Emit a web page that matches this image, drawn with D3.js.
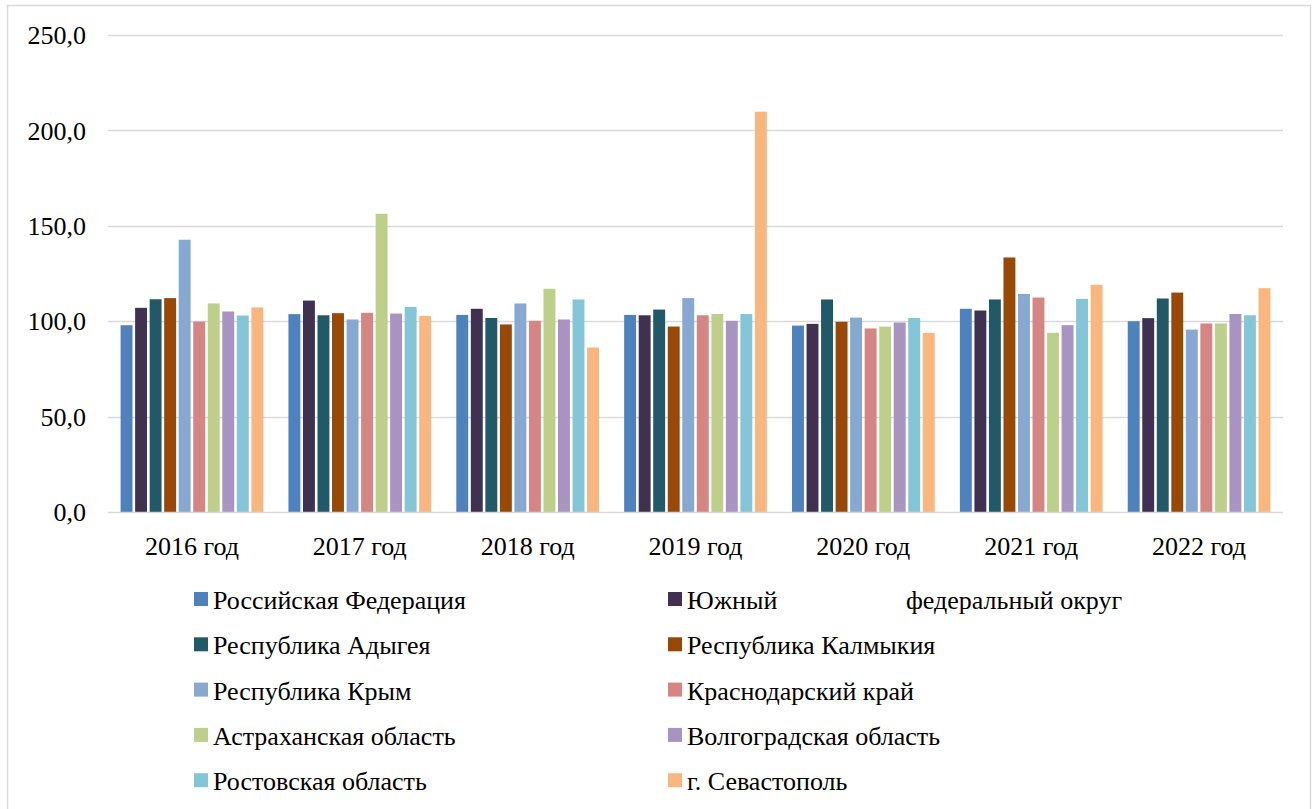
<!DOCTYPE html>
<html lang="ru">
<head>
    <meta charset="UTF-8">
    <title>Индексы по годам</title>
    <style>
        body { margin: 0; background: #fff; }
        svg text {
            font-family: "Liberation Serif", "Times New Roman", "DejaVu Serif", serif;
            fill: #000;
        }
    </style>
</head>
<body>
    <div id="chart"></div>
    <script src="https://d3js.org/d3.v7.min.js"></script>
    <script>

        // categories (years)
        var years = ["2016 год", "2017 год", "2018 год", "2019 год", "2020 год", "2021 год", "2022 год"];

        // series names
        var seriesNames = [
            "Российская Федерация",
            "Южный федеральный округ",
            "Республика Адыгея",
            "Республика Калмыкия",
            "Республика Крым",
            "Краснодарский край",
            "Астраханская область",
            "Волгоградская область",
            "Ростовская область",
            "г. Севастополь"
        ];

        // values per series, one per year
        var rf         = [97.9, 103.7, 103.3, 103.3, 97.7, 106.5, 100.0];
        var yufo       = [107.0, 110.8, 106.5, 103.1, 98.6, 105.6, 101.6];
        var adygea     = [111.5, 103.1, 101.7, 106.1, 111.4, 111.4, 111.9];
        var kalmykia   = [112.1, 104.2, 98.3, 97.2, 99.7, 133.4, 115.0];
        var krym       = [142.7, 100.9, 109.3, 112.1, 101.9, 114.3, 95.6];
        var krasnodar  = [99.8, 104.4, 100.2, 103.1, 96.2, 112.4, 98.8];
        var astrakhan  = [109.3, 156.3, 117.0, 103.8, 97.2, 93.9, 98.8];
        var volgograd  = [105.1, 104.0, 100.9, 100.2, 99.3, 97.9, 103.8];
        var rostov     = [103.0, 107.5, 111.4, 103.8, 101.7, 111.7, 103.1];
        var sevastopol = [107.2, 102.8, 86.2, 209.8, 93.9, 119.1, 117.3];

        var yTicks = [0, 50, 100, 150, 200, 250];

        var seriesValues = [rf, yufo, adygea, kalmykia, krym, krasnodar, astrakhan, volgograd, rostov, sevastopol];

        var colors = ["#4F81BD", "#403151", "#215968", "#984807", "#86A8D1",
                      "#D58584", "#BECF8C", "#A794C0", "#84C5D7", "#F9B67E"];

        var width = 1312, height = 809;
        var plot = {left: 108, right: 1283, top: 35, bottom: 512};
        var serif = "'Liberation Serif', 'Times New Roman', 'DejaVu Serif', serif";

        var svg = d3.select("#chart").append("svg")
            .attr("width", width)
            .attr("height", height)
            .attr("font-family", serif);

        // chart frame
        svg.append("rect")
            .attr("x", 7.5).attr("y", 5.5)
            .attr("width", 1303).attr("height", 820)
            .attr("fill", "#fff")
            .attr("stroke", "#D9D9D9")
            .attr("stroke-width", 1.5);

        var x0 = d3.scaleBand()
            .domain(years)
            .range([plot.left, plot.right])
            .paddingInner(0.15)
            .paddingOuter(0.075);

        var x1 = d3.scaleBand()
            .domain(d3.range(seriesNames.length))
            .range([0, x0.bandwidth()])
            .paddingInner(0.18);

        var y = d3.scaleLinear()
            .domain([0, 250])
            .range([plot.bottom, plot.top]);

        // gridlines
        svg.append("g").selectAll("line")
            .data(yTicks.slice(1))
            .enter().append("line")
            .attr("x1", plot.left).attr("x2", plot.right)
            .attr("y1", function(d) { return Math.round(y(d)) + 0.5; })
            .attr("y2", function(d) { return Math.round(y(d)) + 0.5; })
            .attr("stroke", "#D9D9D9")
            .attr("stroke-width", 1.5);

        // y labels
        var fmt = function(d) { return d3.format(".1f")(d).replace(".", ","); };
        svg.append("g").selectAll("text")
            .data(yTicks)
            .enter().append("text")
            .attr("x", 86)
            .attr("y", function(d) { return y(d); })
            .attr("dy", "0.35em")
            .attr("text-anchor", "end")
            .style("font-family", serif)
            .style("font-size", "26px")
            .text(fmt);

        // bars
        var groups = svg.append("g").selectAll("g")
            .data(years)
            .enter().append("g")
            .attr("transform", function(d) { return "translate(" + x0(d) + ",0)"; });

        groups.selectAll("rect")
            .data(function(d, i) {
                return seriesValues.map(function(s, k) { return {k: k, v: s[i]}; });
            })
            .enter().append("rect")
            .attr("x", function(d) { return x1(d.k); })
            .attr("width", x1.bandwidth())
            .attr("y", function(d) { return y(d.v); })
            .attr("height", function(d) { return y(0) - y(d.v); })
            .attr("fill", function(d) { return colors[d.k]; });

        // x axis line
        svg.append("line")
            .attr("x1", plot.left).attr("x2", plot.right)
            .attr("y1", plot.bottom + 0.5).attr("y2", plot.bottom + 0.5)
            .attr("stroke", "#D9D9D9")
            .attr("stroke-width", 1.5);

        // category labels
        svg.append("g").selectAll("text")
            .data(years)
            .enter().append("text")
            .attr("x", function(d) { return x0(d) + x0.bandwidth() / 2; })
            .attr("y", 555)
            .attr("text-anchor", "middle")
            .style("font-family", serif)
            .style("font-size", "26px")
            .text(function(d) { return d; });

        // legend, two columns
        var legend = svg.append("g").selectAll("g")
            .data(seriesNames)
            .enter().append("g")
            .attr("transform", function(d, i) {
                var col = i % 2, row = Math.floor(i / 2);
                return "translate(" + (col === 0 ? 194 : 668) + "," + (599 + row * 45.3) + ")";
            });

        legend.append("rect")
            .attr("x", 0).attr("y", -7)
            .attr("width", 14).attr("height", 14)
            .attr("fill", function(d, i) { return colors[i]; });

        legend.append("text")
            .attr("x", 19)
            .attr("y", 10)
            .style("font-family", serif)
            .style("font-size", "26px")
            .each(function(d, i) {
                var t = d3.select(this);
                if (i === 1) {
                    // the original has a wide gap in this label
                    t.append("tspan").text("Южный");
                    t.append("tspan").attr("x", 238).text("федеральный округ");
                } else {
                    t.text(d);
                }
            });

    </script>
</body>
</html>
